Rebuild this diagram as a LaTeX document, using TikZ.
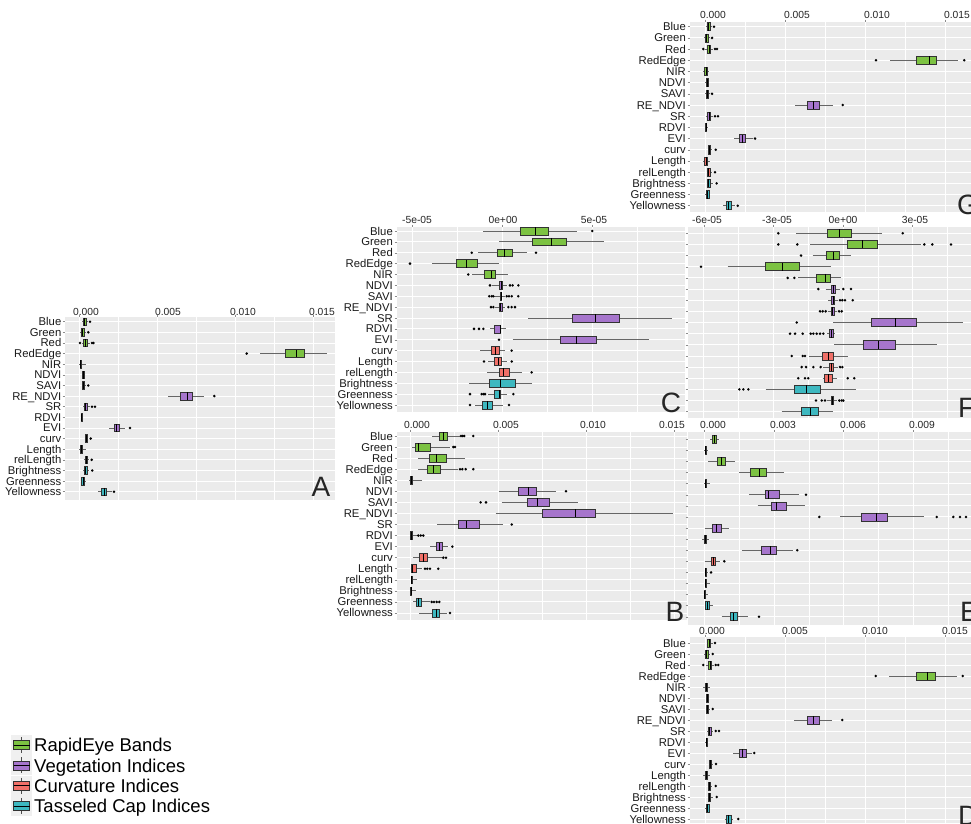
\documentclass[tikz,border=0pt]{standalone}
\usepackage{fontspec}
\setmainfont{Liberation Sans}

\definecolor{rapid}{RGB}{124,194,66}
\definecolor{veg}{RGB}{166,117,204}
\definecolor{curvc}{RGB}{240,112,104}
\definecolor{tass}{RGB}{62,184,192}
\definecolor{panelgray}{RGB}{235,235,235}

\def\varlist{Blue,Green,Red,RedEdge,NIR,NDVI,SAVI,RE\_NDVI,SR,RDVI,EVI,curv,Length,relLength,Brightness,Greenness,Yellowness}

% colour of a row: bands, vegetation, curvature, tasseled cap
\newcommand{\rowcolour}[1]{\ifnum#1<6 \def\bcol{rapid}\else\ifnum#1<12 \def\bcol{veg}\else\ifnum#1<15 \def\bcol{curvc}\else\def\bcol{tass}\fi\fi\fi}
% row, low whisker, q1, median, q3, high whisker
\newcommand{\bplot}[6]{%
  \rowcolour{#1}%
  \draw[whisker_line] (#2,#1) -- (#3,#1) (#5,#1) -- (#6,#1);
  \filldraw[box_line, fill=\bcol] (#3,#1-.36) rectangle (#5,#1+.36);
  \draw[median_line] (#4,#1-.36) -- (#4,#1+.36);}
\newcommand{\outl}[1]{\foreach \rw/\p in {#1} {\fill[outlier_dot] (\p,\rw) circle (1.4pt);}}
% x0, y0, x1, y1, major lines, minor lines
\newcommand{\panelbg}[6]{%
  \fill[panelgray] (#1,#2) rectangle (#3,#4);
  \foreach \g in {#6} {\draw[grid_minor] (\g,#2) -- (\g,#4);}
  \foreach \g in {#5} {\draw[grid_major] (\g,#2) -- (\g,#4);
                       \draw[tick_mark] (\g,#2-2.5) -- (\g,#2);}}
\newcommand{\xlabels}[3]{\foreach \x/\tl [count=\i] in {#3} {\node[tick_label] (#1x\i) at (\x,#2) {\tl};}}
\newcommand{\rowgrid}[2]{\foreach \rw in {1,...,17} {\draw[grid_major] (#1,\rw) -- (#2,\rw);
                                                     \draw[tick_mark] (#1-2.5,\rw) -- (#1,\rw);}}
\newcommand{\rowlabels}[2]{\foreach \lab [count=\rw] in \varlist {\node[row_label] (#1\rw) at (#2,\rw) {\lab};}}

\begin{document}
\begin{tikzpicture}[x=1pt, y=-1pt,
                    whisker_line/.style={black!60, line width=.9pt},
                    box_line/.style={black!80, line width=.6pt},
                    median_line/.style={black, line width=1pt},
                    outlier_dot/.style={black},
                    grid_major/.style={white, line width=.9pt},
                    grid_minor/.style={white, line width=.45pt},
                    tick_mark/.style={black!45, line width=.5pt},
                    tick_label/.style={anchor=base, yshift=-3.6pt, inner sep=0, text=black!85,
                                       font=\fontsize{10.3}{10}\selectfont},
                    row_label/.style={anchor=base east, yshift=-4pt, inner sep=0, text=black!90,
                                      font=\fontsize{11.3}{11}\selectfont},
                    panel_letter/.style={anchor=base, yshift=-10pt, inner sep=0, text=black!85,
                                         font=\fontsize{28}{28}\selectfont},
                    legend_text/.style={anchor=base west, yshift=-6.6pt, inner sep=0,
                                        font=\fontsize{18.5}{18.5}\selectfont}
                    ]
    \useasboundingbox (0,0) rectangle (971,823);
    \fill[white] (0,0) rectangle (971,823);

    % panel A
    \panelbg{65}{317}{335}{500}{79,157,235,313}{118,196,274}
    \xlabels{A}{311.7}{86/0.000,168/0.005,243/0.010,322/0.015}
    \begin{scope}[shift={(0,311.075)}, y=-10.625pt]
        \rowgrid{65}{335}
        \rowlabels{A}{61.5}
        \foreach \rw/\lo/\qa/\md/\qb/\hi in {1/82/83/84.5/86/88, 2/80/81/82/84/86,
            3/81.5/83.3/85.5/87.7/90, 4/260/285.7/296.7/304/326.7, 5/79/80/80.7/81.5/85.7,
            6/82/82.7/83.3/84/84.5, 7/81.7/82/83/84.5/85, 8/168.3/180/187.7/192.3/204,
            9/83/84/85/87.3/90, 10/80.7/81.3/81.7/82.3/83, 11/109.3/114.3/116.7/119.3/125,
            12/84.5/85/86/87.3/88, 13/79/80.5/81.7/82.5/86, 14/83.5/85/86/87.3/89,
            15/83/84/85/87.3/89, 16/80.7/81.7/83/84.5/85.7, 17/98.3/101.7/104.3/106.7/111.7}
            {\bplot{\rw}{\lo}{\qa}{\md}{\qb}{\hi}}
        \outl{1/90, 2/88.3, 3/80, 3/92, 3/93.5, 4/246.7, 7/88.3, 8/214.3, 9/92, 9/95,
              11/130, 12/90.7, 14/91.7, 15/92.3, 17/114}
    \end{scope}
    \node[panel_letter] (labA) at (321,486) {A};

    % panel C
    \panelbg{397}{227}{685}{412}{412,502,592}{457,547,637}
    \xlabels{C}{220}{417/-5e-05,503/0e+00,594/5e-05}
    \begin{scope}[shift={(0,220.125)}, y=-10.875pt]
        \rowgrid{397}{685}
        \rowlabels{C}{393}
        \foreach \rw/\lo/\qa/\md/\qb/\hi in {1/483.3/520/535/548.3/576.7, 2/499.3/532.3/551/566.7/604,
            3/478.3/497.3/504/512.7/527.3, 4/432.3/456/466/477.3/499.3, 5/471.7/484.3/491.7/495.7/507.7,
            6/492.3/499/501/502.3/506.7, 7/494.3/500/501/501.7/505, 8/495/499/500.7/502.3/505,
            9/528.3/572.3/595.7/619/671.7, 10/490/494.3/500/500.7/505.7, 11/512.7/560/576.7/596.7/649.3,
            12/480/491/495.7/499.3/505, 13/488.3/494.3/498.3/501.7/506.7, 14/487.3/499.3/503.3/509.3/521.7,
            15/469.3/489.3/500.7/515/531.7, 16/488.3/494.3/499.3/500.7/506.7, 17/475/482.7/487.3/492.3/503.3}
            {\bplot{\rw}{\lo}{\qa}{\md}{\qb}{\hi}}
        \outl{1/592.3, 3/471.7, 3/536, 4/410, 5/468.3, 6/490, 6/510, 6/512.7, 6/518.3,
              7/489.3, 7/491.7, 7/493.3, 7/506.7, 7/509, 7/511.7, 7/518.3, 8/491, 8/493.3,
              8/508.3, 8/511.7, 8/515, 10/474, 10/479, 10/483.3, 11/499, 12/511.7, 13/484,
              13/511.7, 14/531.7, 16/470, 16/481.7, 16/483.3, 16/485, 16/513.3, 17/470, 17/509}
    \end{scope}
    \node[panel_letter] (labC) at (671,402) {C};

    % panel F
    \panelbg{688}{227}{971}{418}{703.8,773.4,843,912.6}{738.6,808.2,877.8,947.4}
    \xlabels{F}{220}{707/-6e-05,777/-3e-05,843/0e+00,915/3e-05}
    \begin{scope}[shift={(0,222.15)}, y=-11.15pt]
        \rowgrid{688}{971}
        \foreach \rw/\lo/\qa/\md/\qb/\hi in {1/796/827.7/839/851/881.7, 2/810/847.3/862.3/877.3/920.7,
            3/812.7/826.7/833.3/839.3/851, 4/727.7/765/782.3/799/830.7, 5/798.3/816/825/830/841,
            6/825.7/831.7/833.3/835.7/840, 7/828.3/831.7/833.3/834.3/838.3, 8/827.7/831/832.7/834/836.7,
            9/833.3/871.7/895.7/916.7/963.3, 10/826.7/829.3/831.7/833.3/835, 11/834.3/863.3/878.3/895.7/936.7,
            12/809.3/822.3/828.3/833.3/847.7, 13/823.3/829/831/833.3/838.3, 14/822.7/824/828.3/832.3/836.7,
            15/765.7/794/806/820/855.7, 16/826.7/831/832.3/833.3/836.7, 17/781.7/801.7/810/818.3/832.7}
            {\bplot{\rw}{\lo}{\qa}{\md}{\qb}{\hi}}
        \outl{1/778.3, 1/902.7, 2/778.3, 2/797.3, 2/924.3, 2/932.3, 2/951, 3/801, 4/701,
              5/787.7, 5/794.3, 6/818.3, 6/843.3, 6/851, 7/840, 7/842.3, 7/845, 7/852.7,
              8/820, 8/822.7, 8/825.7, 8/839, 8/841.7, 9/796.7, 10/790, 10/795, 10/802.7,
              10/810.7, 10/813.3, 10/816.7, 10/820, 10/823.3, 12/791.7, 12/802.7, 12/805,
              13/801.7, 13/806, 13/813.3, 13/820.7, 13/840, 13/842.3, 14/798.3, 14/805,
              14/808.3, 14/847.7, 14/854.3, 15/739.3, 15/743.3, 15/748.3, 16/816, 16/821.7,
              16/825, 16/839.3, 16/841.7, 16/843.3}
    \end{scope}
    \node[panel_letter, anchor=base west] (labF) at (958,407) {F};

    % panel G
    \panelbg{690}{22}{971}{212}{705.7,785.7,865.7,945.7}{745.7,825.7,905.7}
    \xlabels{G}{15}{713/0.000,797/0.005,877/0.010,957/0.015}
    \begin{scope}[shift={(0,15.51)}, y=-11.19pt]
        \rowgrid{690}{971}
        \rowlabels{G}{686}
        \foreach \rw/\lo/\qa/\md/\qb/\hi in {1/706/707.3/708.7/710/712, 2/704/705/706.5/708.3/710,
            3/705/707.3/709/710.7/713, 4/890/916.7/929.3/936/958.3, 5/702.7/704.7/706/707/709.3,
            6/705/706/707/708/708.5, 7/705/706/707/708.3/710, 8/795/807.3/813.3/819.3/833.3,
            9/706/707.3/709/710.7/713, 10/704.7/705.3/706/706.7/707.3, 11/734/739/742/745/753.3,
            12/708/708.3/709.3/710.7/712, 13/702.7/704.7/706/707/709.7, 14/706.5/707.3/708.7/710/712,
            15/706.5/707.3/708.7/710.7/713, 16/705/706.7/707.7/709.3/710, 17/723.3/726/728.3/731/735}
            {\bplot{\rw}{\lo}{\qa}{\md}{\qb}{\hi}}
        \outl{1/714, 2/712, 3/703.3, 3/715, 3/717, 4/876, 4/964.3, 7/712, 8/842.7, 9/715,
              9/718, 11/755, 12/715.7, 14/715, 15/716.7, 17/737.7}
    \end{scope}
    \node[panel_letter, anchor=base west] (labG) at (957,204) {G};

    % panel B
    \panelbg{397}{432}{687}{620}{410,498,586,674}{454,542,630}
    \xlabels{B}{425}{417/0.000,506/0.005,593/0.010,672/0.015}
    \begin{scope}[shift={(0,424.94)}, y=-11.06pt]
        \rowgrid{397}{687}
        \rowlabels{B}{393}
        \foreach \rw/\lo/\qa/\md/\qb/\hi in {1/432.3/439/443.3/447.3/460, 2/411.7/415/418.3/430/450,
            3/418.3/429/436/446/465, 4/418.3/427.7/433.3/440.7/458.3, 5/409.3/410.3/411.3/412.7/421.7,
            6/499.3/518.3/528.3/536.7/556, 7/501.7/527.7/537.3/549/578.3, 8/495.7/542.3/575/595.7/672.7,
            9/437.3/458.3/466.7/479.3/502.7, 10/410/410.3/411/412.7/416.7, 11/430/436.7/439.3/442.7/448.3,
            12/412.7/419.3/423.3/427.7/441.7, 13/410.7/411/412.7/416/421.7, 14/411/411.3/411.7/412.3/417.3,
            15/410.3/410.7/411/411.7/415.7, 16/413.3/416/418.3/421/430, 17/419.3/432.3/436/439.3/446.7}
            {\bplot{\rw}{\lo}{\qa}{\md}{\qb}{\hi}}
        \outl{1/461, 1/462.7, 1/464.3, 1/473.3, 2/453.3, 2/455, 4/460, 4/462.3, 4/465.7,
              4/473.3, 6/566, 7/480.7, 7/486, 9/511.7, 10/418.3, 10/420.7, 10/423.3, 11/452.3,
              12/443.3, 12/446, 13/425, 13/427.3, 13/430, 13/438.3, 16/431.7, 16/434,
              16/436.7, 16/439.3, 17/450}
    \end{scope}
    \node[panel_letter] (labB) at (675,611) {B};

    % panel E
    \panelbg{688}{432}{971}{625}{704.5,774,843.5,913}{739.3,808.8,878.3,947.8}
    \xlabels{E}{425}{713/0.000,783/0.003,853/0.006,922/0.009}
    \begin{scope}[shift={(0,428.21)}, y=-11.09pt]
        \rowgrid{688}{971}
        \foreach \rw/\lo/\qa/\md/\qb/\hi in {1/710/712.3/714.3/716.7/719.3, 2/704.3/705/705.7/706.7/707.3,
            3/708.3/717.7/721/725/735, 4/739/750/759/766/784.3, 5/704.3/705/705.7/706.3/710,
            6/749/765/768.3/779.3/799.3, 7/757.7/771.7/776/786/805, 8/840/861.7/876.7/887.3/924,
            9/705/712.7/716.7/721/729, 10/702.3/704.7/705.7/706.7/709, 11/741.7/761.7/770/776/793.3,
            12/705/711/713.3/715.7/720, 13/704.7/705/705.7/706.7/708.3, 14/704.7/705/705.3/706/710,
            15/704/704.3/704.7/705.3/708.3, 16/705/705.7/707.3/709.3/713.3, 17/721.7/730.7/733.3/737.3/747.7}
            {\bplot{\rw}{\lo}{\qa}{\md}{\qb}{\hi}}
        \outl{6/806, 8/819.3, 8/936.7, 8/953.3, 8/960, 8/966, 11/797.3, 12/724.3, 13/711, 17/759}
    \end{scope}
    \node[panel_letter, anchor=base west] (labE) at (960,611) {E};

    % panel D
    \panelbg{690}{637}{971}{823}{705.7,785.7,865.7,945.7}{745.7,825.7,905.7}
    \xlabels{D}{631}{712/0.000,795/0.005,875/0.010,955/0.015}
    \begin{scope}[shift={(0,632)}, y=-11pt]
        \rowgrid{690}{971}
        \rowlabels{D}{686}
        \foreach \rw/\lo/\qa/\md/\qb/\hi in {1/706.7/707.7/709/710.7/713, 2/704/705/706.5/708/710,
            3/706/708/710/711.7/714, 4/889/916/927.3/935/957.3, 5/703.3/705/706.7/707.7/710,
            6/706/706.7/707.3/708/708.5, 7/706/706.7/707.3/708.7/710, 8/794/807.3/813.3/819.3/832.3,
            9/707/708/709.3/711/713, 10/705.3/706/706.7/707.3/708.3, 11/733.3/739.3/742.7/746/751.7,
            12/708.5/709.3/710.3/711.7/713, 13/703.3/705/706.7/707.7/710, 14/708/708.3/709.5/710.7/712,
            15/708/708.3/709.5/710.7/712.5, 16/704.7/706/707.5/709.3/710, 17/725/726.7/728.7/731/733.3}
            {\bplot{\rw}{\lo}{\qa}{\md}{\qb}{\hi}}
        \outl{1/715, 2/712.7, 3/703.3, 3/715.7, 3/718.3, 4/875.7, 4/962.7, 7/712.7, 8/842.3,
              9/715.7, 9/719, 11/754.3, 12/716, 14/715.7, 15/716.7, 17/738.3}
    \end{scope}
    \node[panel_letter, anchor=base west] (labD) at (958,815) {D};

    % legend
    \foreach \lab/\c [count=\i] in {RapidEye Bands/rapid, Vegetation Indices/veg,
                                    Curvature Indices/curvc, Tasseled Cap Indices/tass} {
        \pgfmathsetmacro\ly{725+20.2*\i}
        \fill[black!6] (11,\ly-10) rectangle (32,\ly+10);
        \draw[whisker_line, black!70] (21.5,\ly-8) -- (21.5,\ly+8);
        \filldraw[box_line, fill=\c] (13.5,\ly-4.5) rectangle (29.5,\ly+4.5);
        \draw[median_line, line width=.6pt] (13.5,\ly) -- (29.5,\ly);
        \node[legend_text] (leg\i) at (34,\ly) {\lab};
    }
\end{tikzpicture}
\end{document}
